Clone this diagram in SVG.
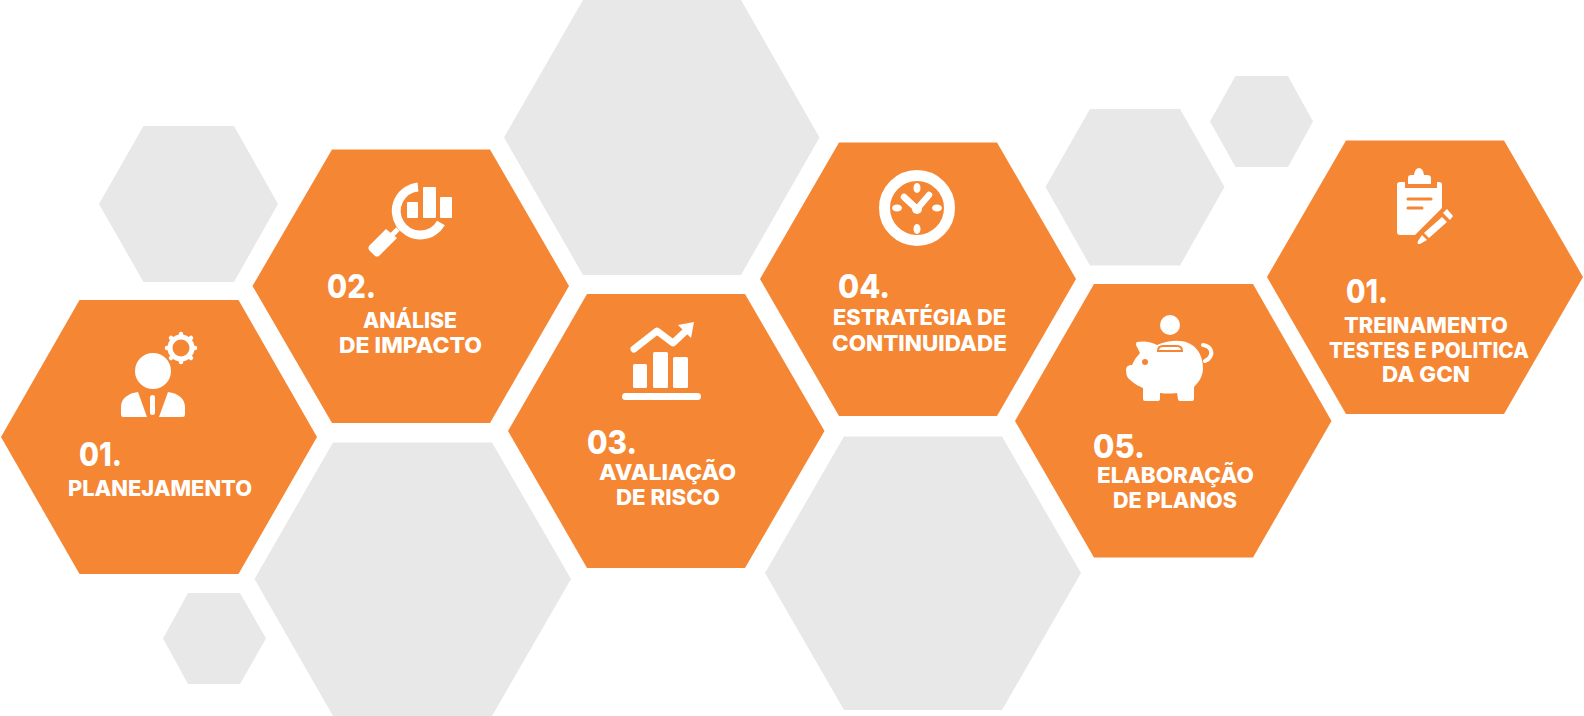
<svg xmlns="http://www.w3.org/2000/svg" width="1584" height="716" viewBox="0 0 1584 716">
<style>
.o{fill:#F58634}.g{fill:#E8E8E8}
.i{fill:#fff;stroke:none}.c{fill:#F58634;stroke:none}
.l{fill:none;stroke:#fff;stroke-linecap:round;stroke-linejoin:round}
text{fill:#fff;font-family:"Inter","Liberation Sans",sans-serif;font-weight:800}
.n{font-size:33px;font-weight:800}.t{font-size:22px}
</style>
<rect width="1584" height="716" fill="#fff"/>
<g id="decor">
<polygon class="g" points="504,137.500 583,0 741,0 819.500,137.500 741,275 583,275"/>
<polygon class="g" points="254.500,579 333,442.500 492,442.500 571,579 492,716 333,716"/>
<polygon class="g" points="765,573 844,436.500 1002,436.500 1081,573 1002,710 844,710"/>
<polygon class="g" points="99,204 143.500,126 234,126 278,204 234,282 143.500,282"/>
<polygon class="g" points="163,638.500 188,593 240,593 266,638.500 240,684 188,684"/>
<polygon class="g" points="1045.500,187 1090,109 1180,109 1224.500,187 1180,265.500 1090,265.500"/>
<polygon class="g" points="1210,121.500 1235.500,76 1288,76 1313,121.500 1288,167 1235.500,167"/>
</g>
<g id="node-planejamento">
<polygon class="o" points="1,437 79.500,300 238.500,300 317,437 238.500,574 79.500,574"/>
<circle class="i" cx="153" cy="371" r="18"/>
<circle cx="181" cy="348" r="11" fill="none" stroke="#fff" stroke-width="5"/>
<path class="l" stroke-width="4.500" d="M181 334v1M181 361v1M167 348h1M194 348h1M171 338l1 1M190 357l1 1M171 358l1-1M190 339l1-1"/>
<path class="i" d="M121 414v-7c0-8 6-12 12-14l5-1 9 25h-24q-2 0-2-3zM185 414v-7c0-8-6-12-12-14l-5-1-9 25h24q2 0 2-3z"/>
<rect class="i" x="150" y="395" width="5" height="20" rx="2.500"/>
<text class="n" x="79" y="466" textLength="43" lengthAdjust="spacingAndGlyphs">01.</text>
<text class="t" x="68" y="496" textLength="184" lengthAdjust="spacingAndGlyphs">PLANEJAMENTO</text>
</g>
<g id="node-analise">
<polygon class="o" points="252.500,286 332,149.500 490,149.500 569,286 490,423 332,423"/>
<path class="l" stroke-width="9" d="M418 187a24 24 0 1 0 23 36" style="stroke-linecap:butt"/>
<rect class="i" x="407" y="202" width="11" height="16" rx="1"/>
<rect class="i" x="423" y="187" width="13" height="31" rx="1"/>
<rect class="i" x="440" y="197" width="12" height="21" rx="1"/>
<path class="l" stroke-width="5" stroke-linecap="butt" d="M391 236l7-7" style="stroke-linecap:butt"/>
<path class="i" d="M386 229l11 9-18 18q-2 1-4 0l-6-6q-1-2 0-4z"/>
<text class="n" x="327" y="298" textLength="49" lengthAdjust="spacingAndGlyphs">02.</text>
<text class="t" x="363" y="328" textLength="94" lengthAdjust="spacingAndGlyphs">ANÁLISE</text>
<text class="t" x="339" y="353" textLength="143" lengthAdjust="spacingAndGlyphs">DE IMPACTO</text>
</g>
<g id="node-avaliacao">
<polygon class="o" points="508,431 587,294 745,294 824.500,431 745,568 587,568"/>
<path class="l" stroke-width="7" d="M634 349l23-18 16 12 15-14"/>
<polygon class="i" points="694,322 678,325 691,338"/>
<rect class="i" x="633" y="364" width="14" height="24" rx="1.500"/>
<rect class="i" x="653" y="352" width="15" height="36" rx="1.500"/>
<rect class="i" x="673" y="357" width="15" height="31" rx="1.500"/>
<rect class="i" x="622" y="393" width="79" height="7" rx="3.500"/>
<text class="n" x="587" y="454" textLength="50" lengthAdjust="spacingAndGlyphs">03.</text>
<text class="t" x="599" y="480" textLength="137" lengthAdjust="spacingAndGlyphs">AVALIAÇÃO</text>
<text class="t" x="616" y="505" textLength="104" lengthAdjust="spacingAndGlyphs">DE RISCO</text>
</g>
<g id="node-estrategia">
<polygon class="o" points="760,279 839,142.500 997,142.500 1076,279 997,416 839,416"/>
<circle cx="917" cy="208" r="32.500" fill="none" stroke="#fff" stroke-width="11"/>
<path class="l" stroke-width="6.500" d="M904 197l13 12 12-14"/>
<circle class="i" cx="917" cy="209" r="5"/>
<ellipse class="i" cx="917" cy="188" rx="3.500" ry="5"/>
<ellipse class="i" cx="917" cy="229" rx="3.500" ry="5"/>
<ellipse class="i" cx="897" cy="208" rx="5" ry="3.500"/>
<ellipse class="i" cx="937" cy="208" rx="5" ry="3.500"/>
<text class="n" x="838" y="298" textLength="52" lengthAdjust="spacingAndGlyphs">04.</text>
<text class="t" x="833" y="325" textLength="173" lengthAdjust="spacingAndGlyphs">ESTRATÉGIA DE</text>
<text class="t" x="832" y="351" textLength="175" lengthAdjust="spacingAndGlyphs">CONTINUIDADE</text>
</g>
<g id="node-elaboracao">
<polygon class="o" points="1015,421 1094,284 1253,284 1331.500,421 1253,557.500 1094,557.500"/>
<circle class="i" cx="1170" cy="325" r="10"/>
<path class="i" d="M1137 342Q1148 340 1157 345Q1170 340 1180 341C1195 342 1203 354 1203 368C1203 376 1199 382 1194 387V399q0 2-2 2H1180q-2 0-2-2L1177 393Q1168 394 1160 393V399q0 2-2 2H1145q-2 0-2-2V388Q1135 385 1128 378Q1126 375 1126 370Q1126 365 1132 365Q1135 358 1140 353L1136 345q0-3 1-3z"/>
<path class="l" stroke-width="4" d="M1203 345c8 1 10 8 7 12-1 2-3 3-5 4"/>
<path fill="#fff" stroke="#F58634" stroke-width="2" d="M1158 351q0-5 5-5h14q5 0 5 5z"/>
<circle class="c" cx="1145" cy="362" r="3"/>
<text class="n" x="1093" y="458" textLength="52" lengthAdjust="spacingAndGlyphs">05.</text>
<text class="t" x="1097" y="483" textLength="157" lengthAdjust="spacingAndGlyphs">ELABORAÇÃO</text>
<text class="t" x="1113" y="508" textLength="124" lengthAdjust="spacingAndGlyphs">DE PLANOS</text>
</g>
<g id="node-treinamento">
<polygon class="o" points="1267,277 1346,140.500 1504,140.500 1583,277 1504,414 1346,414"/>
<path class="i" d="M1397 185q0-3 3-3h5v6h32v-6h2q3 0 3 3v23l-27 27h-15q-3 0-3-3z"/>
<path class="i" d="M1408 184v-6q0-3 3-3h3q1-7 5-7t5 7h3q4 0 4 3v6z"/>
<path fill="none" stroke="#F58634" stroke-width="3" stroke-linecap="round" d="M1408 199h23M1408 208h14"/>
<path class="i" d="M1442 217l5 5-18 16-5-5z"/>
<path class="i" d="M1447 209l6 7-3 4-7-7z"/>
<path class="i" d="M1422 235l5 5-7 4h-2q-1-1 0-3z"/>
<text class="n" x="1346" y="303" textLength="42" lengthAdjust="spacingAndGlyphs">01.</text>
<text class="t" x="1344" y="333" textLength="164" lengthAdjust="spacingAndGlyphs">TREINAMENTO</text>
<text class="t" x="1329" y="358" textLength="200" lengthAdjust="spacingAndGlyphs">TESTES E POLITICA</text>
<text class="t" x="1382" y="382" textLength="88" lengthAdjust="spacingAndGlyphs">DA GCN</text>
</g>
</svg>
